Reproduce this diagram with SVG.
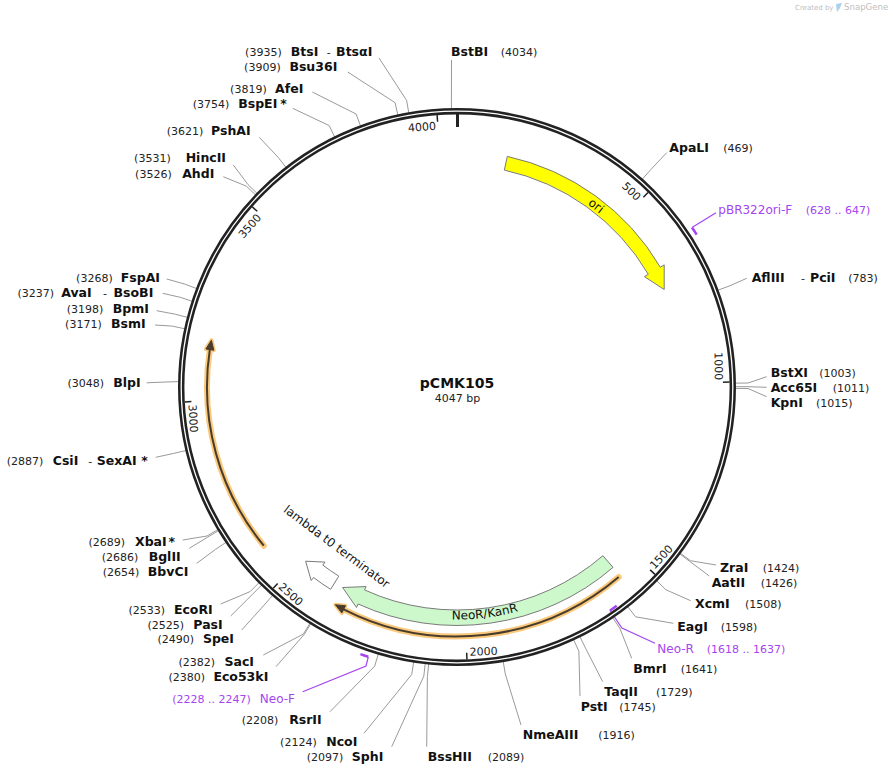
<svg xmlns="http://www.w3.org/2000/svg" width="893" height="776" viewBox="0 0 893 776">
<style>
.bb{fill:none;stroke:#222;stroke-width:6.4}
.bbg{fill:none;stroke:#fff;stroke-width:1.3}
.tick{stroke:#222;stroke-width:1.5}
.tl{font-family:"DejaVu Sans",sans-serif;font-size:11px;fill:#222}
.ld{fill:none;stroke:#9a9a9a;stroke-width:1}
.pld{fill:none;stroke:#a545f0;stroke-width:1.2}
.pm{fill:none;stroke:#a545f0;stroke-width:2.5}
.nm{font-family:"DejaVu Sans",sans-serif;font-weight:bold;font-size:12.5px;fill:#111}
.num{font-family:"DejaVu Sans",sans-serif;font-size:11px;fill:#222}
.pt{font-family:"DejaVu Sans",sans-serif;font-size:12px;fill:#a545f0}
.pn{font-family:"DejaVu Sans",sans-serif;font-size:11px;fill:#a545f0}
.feat{stroke:#7a7a7a;stroke-width:1}
.fl{font-family:"DejaVu Sans",sans-serif;font-size:12px;fill:#111}
.halo{fill:none;stroke:#f9c97c;stroke-width:6;stroke-linecap:round}
.orf{fill:none;stroke:#4a3c2c;stroke-width:2}
.haloh{fill:#4a3c2c;stroke:#f9c97c;stroke-width:4;stroke-linejoin:round}
.orfh{fill:#4a3c2c;stroke:#4a3c2c;stroke-width:1;stroke-linejoin:round}
.wm{font-family:"DejaVu Sans",sans-serif;fill:#c0c0c0}
</style>
<defs>
<path id="p-ori" d="M 551.9 183.5 A 224.5 224.5 0 0 1 629.0 242.7"/>
<path id="p-neo" d="M 377.5 605.4 A 232.4 232.4 0 0 0 587.0 579.7"/>
</defs>
<rect width="893" height="776" fill="#fff"/>

<g id="watermark">
<text class="wm" x="795" y="10" font-size="7">Created by</text>
<path d="M 836 4 L 842 3 L 840 8 L 837 12 Z" fill="#a9d0ec"/>
<text class="wm" x="844" y="10" font-size="8.6">SnapGene</text>
</g>

<g id="connectors">
<polyline class="ld" points="451.5,60 451.4,111.1"/>
<polyline class="ld" points="379,58 406.6,100.4 409.2,115.2"/>
<polyline class="ld" points="347.7,72 395.1,102.7 398.3,117.3"/>
<polyline class="ld" points="312.3,92 356.1,114.0 361.3,128.1"/>
<polyline class="ld" points="292.7,108.3 329.2,125.6 335.7,139.1"/>
<polyline class="ld" points="259.3,137.3 278.2,157.4 287.5,169.2"/>
<polyline class="ld" points="233.3,165 248.0,184.6 258.7,195.0"/>
<polyline class="ld" points="223.3,176.7 246.4,186.2 257.3,196.5"/>
<polyline class="ld" points="166.7,279 184.8,284.1 198.8,289.4"/>
<polyline class="ld" points="162.7,293.3 180.2,297.3 194.4,302.0"/>
<polyline class="ld" points="156.7,310.7 175.2,314.2 189.8,318.0"/>
<polyline class="ld" points="155,325 172.4,326.1 187.1,329.3"/>
<polyline class="ld" points="146.7,382.8 166,382 181,381.5"/>
<polyline class="ld" points="155.7,457.3 173.7,453.4 188.3,450.0"/>
<polyline class="ld" points="182.7,540 207.0,536.0 219.9,528.3"/>
<polyline class="ld" points="189.3,548.3 207.7,537.1 220.6,529.4"/>
<polyline class="ld" points="196.7,563.3 215.5,549.4 228.0,541.0"/>
<polyline class="ld" points="220.7,604 250.1,591.6 260.7,581.0"/>
<polyline class="ld" points="230.7,616 252.6,594.2 263.2,583.5"/>
<polyline class="ld" points="241.7,630 264.2,605.0 274.1,593.7"/>
<polyline class="ld" points="263.3,655 303.3,634.1 311.2,621.4"/>
<polyline class="ld" points="276,666.7 304.1,634.6 312.0,621.8"/>
<polyline class="ld" points="330,711.7 374.7,666.1 379.0,651.7"/>
<polyline class="ld" points="364,733.3 411.7,674.5 414.1,659.6"/>
<polyline class="ld" points="391.7,746.7 423.8,676.1 425.5,661.2"/>
<polyline class="ld" points="426.7,746.7 427.4,676.5 428.9,661.6"/>
<polyline class="ld" points="521,725 505.3,674.0 502.8,659.2"/>
<polyline class="ld" points="580,696 578.9,651.2 572.6,637.6"/>
<polyline class="ld" points="602.7,681.7 585.5,648.1 578.9,634.6"/>
<polyline class="ld" points="631.7,658.3 619.8,628.2 611.4,615.8"/>
<polyline class="ld" points="673.3,623.3 635.6,616.8 626.4,604.9"/>
<polyline class="ld" points="690.7,600.7 665.8,589.7 655.1,579.2"/>
<polyline class="ld" points="709.3,576 689.9,561.5 677.9,552.5"/>
<polyline class="ld" points="716,565 690.5,560.7 678.4,551.8"/>
<polyline class="ld" points="766.7,396.7 748.0,388.5 733,388.4"/>
<polyline class="ld" points="766.7,387.3 748,386.7 733,386.7"/>
<polyline class="ld" points="766.7,376.7 748.0,383.0 733,383.2"/>
<polyline class="ld" points="746.7,278.3 729.8,285.8 715.8,291.0"/>
<polyline class="ld" points="666.7,152.7 650.6,169.8 640.7,181.0"/>
<polyline class="pld" points="692,227.5 716,212.7"/>
<polyline class="pld" points="609.8,610 621.9,628.0 655,643.3"/>
<polyline class="pld" points="368.3,656.8 366,666 302.7,691.7"/>
</g>

<g id="backbone">
<circle class="bb" cx="457" cy="387" r="275.8"/>
<circle class="bbg" cx="457" cy="387" r="275.8"/>
<line x1="457.5" y1="113" x2="457.5" y2="127" stroke="#222" stroke-width="3"/>
<g class="tick">
<line x1="457" y1="114.4" x2="457" y2="121" transform="rotate(44.477 457 387)"/>
<line x1="457" y1="114.4" x2="457" y2="121" transform="rotate(88.955 457 387)"/>
<line x1="457" y1="114.4" x2="457" y2="121" transform="rotate(133.432 457 387)"/>
<line x1="457" y1="114.4" x2="457" y2="121" transform="rotate(177.909 457 387)"/>
<line x1="457" y1="114.4" x2="457" y2="121" transform="rotate(222.387 457 387)"/>
<line x1="457" y1="114.4" x2="457" y2="121" transform="rotate(266.864 457 387)"/>
<line x1="457" y1="114.4" x2="457" y2="121" transform="rotate(311.342 457 387)"/>
<line x1="457" y1="114.4" x2="457" y2="121" transform="rotate(355.819 457 387)"/>
</g>
<text class="tl" x="455" y="129" text-anchor="end" transform="rotate(44.477 457 387)">500</text>
<text class="tl" x="455" y="129" text-anchor="end" transform="rotate(88.955 457 387)">1000</text>
<text class="tl" x="460" y="656" transform="rotate(-46.568 457 387)">1500</text>
<text class="tl" x="460" y="656" transform="rotate(-2.091 457 387)">2000</text>
<text class="tl" x="460" y="656" transform="rotate(42.387 457 387)">2500</text>
<text class="tl" x="460" y="656" transform="rotate(86.864 457 387)">3000</text>
<text class="tl" x="455" y="129" text-anchor="end" transform="rotate(311.342 457 387)">3500</text>
<text class="tl" x="455" y="129" text-anchor="end" transform="rotate(355.819 457 387)">4000</text>
</g>

<g id="title">
<text x="457" y="388.3" text-anchor="middle" font-family="DejaVu Sans, sans-serif" font-weight="bold" font-size="14" fill="#111">pCMK105</text>
<text x="457.5" y="401.7" text-anchor="middle" class="num">4047 bp</text>
</g>

<g id="feature-ori">
<path class="feat" fill="#ffff00" d="M 507.3 156.4 A 236 236 0 0 1 660.3 267.2 L 664.2 264.9 L 664.2 289.5 L 644.4 276.6 L 648.3 274.3 A 222 222 0 0 0 504.3 170.1 Z"/>
<text class="fl"><textPath href="#p-ori" startOffset="50%" text-anchor="middle">ori</textPath></text>
</g>

<g id="feature-neor">
<path class="feat" fill="#ccf8cc" d="M 613.0 567.4 A 238.5 238.5 0 0 1 358.1 604.0 L 356.5 607.5 L 342.6 587.5 L 366.1 586.6 L 364.5 589.9 A 223 223 0 0 0 602.9 555.7 Z"/>
<text class="fl"><textPath href="#p-neo" startOffset="50%" text-anchor="middle">NeoR/KanR</textPath></text>
</g>

<g id="feature-lambda">
<path class="feat" fill="#fff" d="M 330.6 589.3 A 238.5 238.5 0 0 1 313.5 577.5 L 311.2 580.5 L 305.6 561.2 L 325.0 562.1 L 322.8 565.1 A 223 223 0 0 0 338.8 576.1 Z"/>
<text class="fl" text-anchor="middle" transform="translate(334.3 549.9) rotate(36.8)">lambda t0 terminator</text>
</g>

<g id="orf-left">
<path class="halo" d="M 263.8 545.7 A 250 250 0 0 1 209.8 349.6"/>
<polygon class="haloh" points="205.9,349.0 211.4,340.2 213.8,350.2"/>
<path class="orf" d="M 263.8 545.7 A 250 250 0 0 1 209.8 349.6"/>
<polygon class="orfh" points="205.9,349.0 211.4,340.2 213.8,350.2"/>
</g>
<g id="orf-bottom">
<path class="halo" d="M 618.7 577.0 A 249.5 249.5 0 0 1 343.7 609.3"/>
<polygon class="haloh" points="341.9,612.9 335.3,604.8 345.5,605.7"/>
<path class="orf" d="M 618.7 577.0 A 249.5 249.5 0 0 1 343.7 609.3"/>
<polygon class="orfh" points="341.9,612.9 335.3,604.8 345.5,605.7"/>
</g>

<g id="primer-pBR322ori-F">
<path class="pm" d="M 692.0 227.5 A 284 284 0 0 1 696.7 234.6"/>
<text class="pt" x="718.3" y="214">pBR322ori-F</text>
<text class="pn" x="805.7" y="214">(628 .. 647)</text>
</g>
<g id="primer-Neo-R">
<path class="pm" d="M 616.7 605.8 A 271 271 0 0 1 610.1 610.5"/>
<text class="pt" x="657.3" y="652.7">Neo-R</text>
<text class="pn" x="706.7" y="652.7">(1618 .. 1637)</text>
</g>
<g id="primer-Neo-F">
<path class="pm" d="M 368.3 656.8 A 284 284 0 0 1 360.4 654.1"/>
<text class="pt" x="295" y="702.7" text-anchor="end">Neo-F</text>
<text class="pn" x="250.7" y="702.7" text-anchor="end">(2228 .. 2247)</text>
</g>

<g id="site-BstBI"><text class="nm" x="451" y="56">BstBI</text><text class="num" x="500.7" y="56">(4034)</text></g>
<g id="site-ApaLI"><text class="nm" x="669.3" y="152">ApaLI</text><text class="num" x="723.3" y="152">(469)</text></g>
<g id="site-AflIII-PciI"><text class="nm" x="751.7" y="282.3">AflIII</text><text class="num" x="801" y="282.3">-</text><text class="nm" x="810" y="282.3">PciI</text><text class="num" x="848.3" y="282.3">(783)</text></g>
<g id="site-BstXI"><text class="nm" x="770.7" y="377.3">BstXI</text><text class="num" x="819.3" y="377.3">(1003)</text></g>
<g id="site-Acc65I"><text class="nm" x="770.7" y="392.3">Acc65I</text><text class="num" x="832.7" y="392.3">(1011)</text></g>
<g id="site-KpnI"><text class="nm" x="770.7" y="406.7">KpnI</text><text class="num" x="816" y="406.7">(1015)</text></g>
<g id="site-ZraI"><text class="nm" x="720" y="571.7">ZraI</text><text class="num" x="762.7" y="571.7">(1424)</text></g>
<g id="site-AatII"><text class="nm" x="711.7" y="586.7">AatII</text><text class="num" x="760.7" y="586.7">(1426)</text></g>
<g id="site-XcmI"><text class="nm" x="695" y="608.3">XcmI</text><text class="num" x="745" y="608.3">(1508)</text></g>
<g id="site-EagI"><text class="nm" x="677.3" y="630.7">EagI</text><text class="num" x="720.7" y="630.7">(1598)</text></g>
<g id="site-BmrI"><text class="nm" x="633.3" y="673.3">BmrI</text><text class="num" x="680.7" y="673.3">(1641)</text></g>
<g id="site-TaqII"><text class="nm" x="604.3" y="696">TaqII</text><text class="num" x="656" y="696">(1729)</text></g>
<g id="site-PstI"><text class="nm" x="580.7" y="710.7">PstI</text><text class="num" x="619.3" y="710.7">(1745)</text></g>
<g id="site-NmeAIII"><text class="nm" x="522.7" y="739.3">NmeAIII</text><text class="num" x="598.3" y="739.3">(1916)</text></g>
<g id="site-BssHII"><text class="nm" x="427.7" y="761">BssHII</text><text class="num" x="487.7" y="761">(2089)</text></g>

<g id="site-SphI"><text class="nm" x="383.3" y="761" text-anchor="end">SphI</text><text class="num" x="343.3" y="761" text-anchor="end">(2097)</text></g>
<g id="site-NcoI"><text class="nm" x="357.3" y="746" text-anchor="end">NcoI</text><text class="num" x="316.7" y="746" text-anchor="end">(2124)</text></g>
<g id="site-RsrII"><text class="nm" x="321.7" y="724" text-anchor="end">RsrII</text><text class="num" x="278.3" y="724" text-anchor="end">(2208)</text></g>
<g id="site-Eco53kI"><text class="nm" x="268.3" y="680.7" text-anchor="end">Eco53kI</text><text class="num" x="205" y="680.7" text-anchor="end">(2380)</text></g>
<g id="site-SacI"><text class="nm" x="254" y="665.7" text-anchor="end">SacI</text><text class="num" x="215" y="665.7" text-anchor="end">(2382)</text></g>
<g id="site-SpeI"><text class="nm" x="234" y="643.3" text-anchor="end">SpeI</text><text class="num" x="194" y="643.3" text-anchor="end">(2490)</text></g>
<g id="site-PasI"><text class="nm" x="222.7" y="629" text-anchor="end">PasI</text><text class="num" x="184" y="629" text-anchor="end">(2525)</text></g>
<g id="site-EcoRI"><text class="nm" x="212.7" y="614" text-anchor="end">EcoRI</text><text class="num" x="165" y="614" text-anchor="end">(2533)</text></g>
<g id="site-BbvCI"><text class="nm" x="188.3" y="576" text-anchor="end">BbvCI</text><text class="num" x="139.3" y="576" text-anchor="end">(2654)</text></g>
<g id="site-BglII"><text class="nm" x="180.7" y="560.7" text-anchor="end">BglII</text><text class="num" x="138.3" y="560.7" text-anchor="end">(2686)</text></g>
<g id="site-XbaI"><text class="nm" x="175" y="546" text-anchor="end">*</text><text class="nm" x="166.7" y="546" text-anchor="end">XbaI</text><text class="num" x="125" y="546" text-anchor="end">(2689)</text></g>
<g id="site-CsiI-SexAI"><text class="nm" x="147.7" y="465" text-anchor="end">*</text><text class="nm" x="136.7" y="465" text-anchor="end">SexAI</text><text class="num" x="88.3" y="465">-</text><text class="nm" x="78.3" y="465" text-anchor="end">CsiI</text><text class="num" x="43.3" y="465" text-anchor="end">(2887)</text></g>
<g id="site-BlpI"><text class="nm" x="140.7" y="387.3" text-anchor="end">BlpI</text><text class="num" x="104" y="387.3" text-anchor="end">(3048)</text></g>
<g id="site-BsmI"><text class="nm" x="145.7" y="328.3" text-anchor="end">BsmI</text><text class="num" x="101.7" y="328.3" text-anchor="end">(3171)</text></g>
<g id="site-BpmI"><text class="nm" x="149" y="313.3" text-anchor="end">BpmI</text><text class="num" x="103.3" y="313.3" text-anchor="end">(3198)</text></g>
<g id="site-AvaI-BsoBI"><text class="nm" x="153.3" y="296.7" text-anchor="end">BsoBI</text><text class="num" x="103" y="296.7">-</text><text class="nm" x="91.7" y="296.7" text-anchor="end">AvaI</text><text class="num" x="54" y="296.7" text-anchor="end">(3237)</text></g>
<g id="site-FspAI"><text class="nm" x="160" y="281.7" text-anchor="end">FspAI</text><text class="num" x="112.7" y="281.7" text-anchor="end">(3268)</text></g>
<g id="site-AhdI"><text class="nm" x="214.3" y="177.7" text-anchor="end">AhdI</text><text class="num" x="171.7" y="177.7" text-anchor="end">(3526)</text></g>
<g id="site-HincII"><text class="nm" x="226" y="162.3" text-anchor="end">HincII</text><text class="num" x="170.7" y="162.3" text-anchor="end">(3531)</text></g>
<g id="site-PshAI"><text class="nm" x="250.7" y="135.3" text-anchor="end">PshAI</text><text class="num" x="203.3" y="135.3" text-anchor="end">(3621)</text></g>
<g id="site-BspEI"><text class="nm" x="286.7" y="107.5" text-anchor="end">*</text><text class="nm" x="277.3" y="107.5" text-anchor="end">BspEI</text><text class="num" x="229.3" y="107.5" text-anchor="end">(3754)</text></g>
<g id="site-AfeI"><text class="nm" x="303.3" y="93.3" text-anchor="end">AfeI</text><text class="num" x="266.7" y="93.3" text-anchor="end">(3819)</text></g>
<g id="site-Bsu36I"><text class="nm" x="337.3" y="70.7" text-anchor="end">Bsu36I</text><text class="num" x="280.7" y="70.7" text-anchor="end">(3909)</text></g>
<g id="site-BtsI-BtsaI"><text class="nm" x="372.3" y="56" text-anchor="end">BtsαI</text><text class="num" x="326.7" y="56">-</text><text class="nm" x="318.3" y="56" text-anchor="end">BtsI</text><text class="num" x="281.7" y="56" text-anchor="end">(3935)</text></g>
</svg>
